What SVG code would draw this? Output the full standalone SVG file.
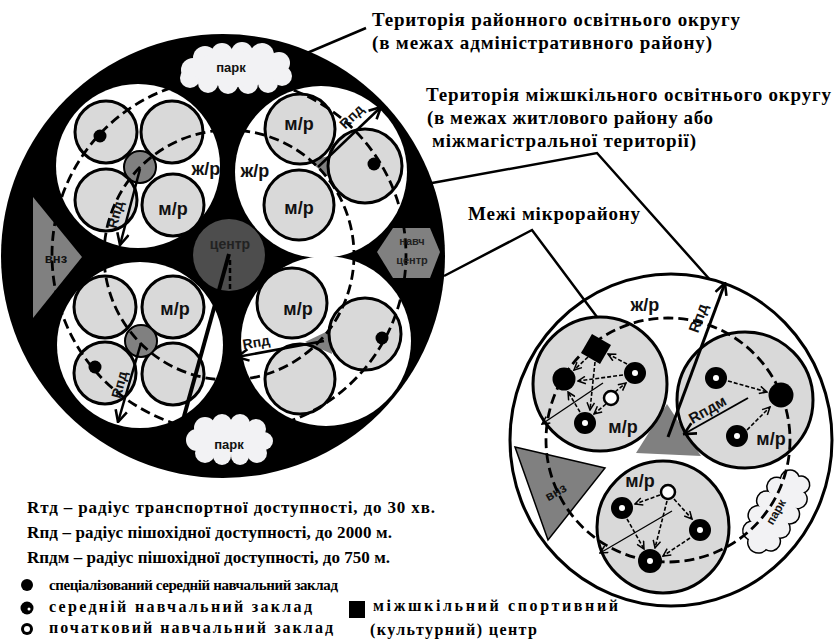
<svg xmlns="http://www.w3.org/2000/svg" xmlns:xlink="http://www.w3.org/1999/xlink" width="835" height="641" viewBox="0 0 835 641">
<style>
.mr{fill:#d9d9d9;stroke:#000;stroke-width:3}
.hub{fill:#808080;stroke:#000;stroke-width:2}
.dash{fill:none;stroke:#000;stroke-width:2.8;stroke-dasharray:10 5}
.sdash{fill:none;stroke:#000;stroke-width:1.6;stroke-dasharray:4 2}
.ln{fill:none;stroke:#000;stroke-width:2.5}
.lbl{font-family:"Liberation Sans",Arial,sans-serif;font-weight:bold;fill:#111}
.ser{font-family:"Liberation Serif","Times New Roman",serif;font-weight:bold;fill:#000}
.park{fill:#f2f2f4}
</style>
<defs>
<marker id="a1" viewBox="0 0 12 12" refX="11" refY="6" markerWidth="14" markerHeight="14" markerUnits="userSpaceOnUse" orient="auto"><path d="M1,1 L11,6 L1,11" fill="none" stroke="#000" stroke-width="2.2"/></marker>
<marker id="a2" viewBox="0 0 12 12" refX="11" refY="6" markerWidth="9" markerHeight="9" markerUnits="userSpaceOnUse" orient="auto"><path d="M1,1 L11,6 L1,11" fill="none" stroke="#000" stroke-width="2"/></marker>
<g id="cloudR">
<circle cx="-35" cy="0" r="10"/><circle cx="-28" cy="-11" r="9"/><circle cx="-12" cy="-14" r="9"/><circle cx="5" cy="-14" r="9"/><circle cx="22" cy="-12" r="9"/><circle cx="35" cy="-4" r="9"/><circle cx="36" cy="8" r="8"/><circle cx="22" cy="12" r="9"/><circle cx="5" cy="13" r="9"/><circle cx="-12" cy="12" r="9"/><circle cx="-28" cy="10" r="9"/><ellipse cx="0" cy="0" rx="35" ry="13"/>
</g>
</defs>

<!-- Left: district territory -->
<g id="district">
<circle cx="223" cy="256" r="222" fill="#000"/>
<circle cx="138" cy="166" r="82" fill="#fff"/>
<circle cx="321" cy="172" r="86" fill="#fff"/>
<circle cx="140" cy="345" r="83" fill="#fff"/>
<circle cx="326" cy="341" r="85" fill="#fff"/>
</g>
<g id="centre"><circle cx="229" cy="255" r="36" fill="#4d4d4d"/></g>
<g id="vnz-left"><polygon points="33,197 82,257 33,318" fill="#808080"/></g>
<g id="navch"><polygon points="377,252 393,228 430,228 440,252 430,278 393,278" fill="#808080"/></g>

<g id="tl-group">
<circle class="mr" cx="106" cy="132" r="31"/>
<circle class="mr" cx="172" cy="132" r="31"/>
<circle class="mr" cx="106" cy="200" r="31"/>
<circle class="mr" cx="173" cy="205" r="31"/>
<circle class="hub" cx="140" cy="167" r="16"/>
</g>
<g id="tr-group">
<polygon points="308,160 330,156 332,180" fill="#808080"/>
<circle class="mr" cx="300" cy="129" r="35"/>
<circle class="mr" cx="299" cy="205" r="35"/>
<circle class="mr" cx="365" cy="166" r="37"/>
</g>
<g id="bl-group">
<circle class="mr" cx="105" cy="307" r="31"/>
<circle class="mr" cx="173" cy="307" r="31"/>
<circle class="mr" cx="105" cy="373" r="31"/>
<circle class="mr" cx="173" cy="374" r="31"/>
<circle class="hub" cx="141" cy="341" r="16"/>
</g>
<g id="br-group">
<polygon points="305,342 330,330 332,354" fill="#808080"/>
<circle class="mr" cx="292" cy="303" r="35"/>
<circle class="mr" cx="300" cy="379" r="35"/>
<circle class="mr" cx="365" cy="334" r="36"/>
</g>

<g id="connectors-left">
<circle class="dash" cx="229" cy="255" r="125"/>
<circle class="dash" cx="229" cy="255" r="177"/>
<line x1="229" y1="254" x2="183" y2="420" stroke="#000" stroke-width="4"/>
<line x1="230" y1="260" x2="230" y2="292" stroke="#000" stroke-width="2.5" stroke-dasharray="5 3"/>
<line class="ln" x1="140" y1="169" x2="120" y2="245" marker-end="url(#a1)"/>
<line class="ln" x1="141" y1="343" x2="118" y2="422" marker-end="url(#a1)"/>
<line class="ln" x1="318" y1="167" x2="381" y2="107" marker-end="url(#a1)"/>
<line class="ln" x1="324" y1="341" x2="237" y2="357" marker-end="url(#a1)"/>
</g>

<g id="park-top">
<g class="park">
<circle cx="193" cy="70" r="12"/><circle cx="205" cy="58" r="12"/><circle cx="222" cy="54" r="11"/><circle cx="242" cy="53" r="11"/><circle cx="262" cy="55" r="12"/><circle cx="279" cy="63" r="11"/><circle cx="282" cy="76" r="10"/><circle cx="268" cy="83" r="10"/><circle cx="248" cy="84" r="10"/><circle cx="228" cy="84" r="10"/><circle cx="208" cy="83" r="10"/><circle cx="190" cy="78" r="10"/><ellipse cx="236" cy="69" rx="45" ry="18"/>
</g>
<text class="lbl" x="231" y="72" font-size="13" text-anchor="middle">парк</text>
</g>
<g id="park-bottom">
<g class="park">
<circle cx="197" cy="440" r="11"/><circle cx="205" cy="428" r="11"/><circle cx="222" cy="424" r="10"/><circle cx="240" cy="424" r="10"/><circle cx="256" cy="429" r="10"/><circle cx="264" cy="441" r="9"/><circle cx="257" cy="453" r="10"/><circle cx="240" cy="456" r="9"/><circle cx="222" cy="456" r="9"/><circle cx="205" cy="453" r="10"/><ellipse cx="229" cy="440" rx="34" ry="15"/>
</g>
<text class="lbl" x="229" y="449" font-size="13" text-anchor="middle">парк</text>
</g>

<g id="spec-dots-left" fill="#000">
<circle cx="100" cy="136" r="6.5"/>
<circle cx="374" cy="164" r="6.5"/>
<circle cx="95" cy="367" r="6.5"/>
<circle cx="382" cy="338" r="6.5"/>
</g>

<g id="labels-left" class="lbl">
<text x="173" y="215" font-size="18" text-anchor="middle">м/р</text>
<text x="206" y="175" font-size="18" text-anchor="middle">ж/р</text>
<text x="255" y="177" font-size="18" text-anchor="middle">ж/р</text>
<text x="299" y="130" font-size="18" text-anchor="middle">м/р</text>
<text x="299" y="214" font-size="18" text-anchor="middle">м/р</text>
<text x="175" y="315" font-size="18" text-anchor="middle">м/р</text>
<text x="298" y="315" font-size="18" text-anchor="middle">м/р</text>
<text x="230" y="249" font-size="14" text-anchor="middle" fill="#222">центр</text>
<text x="56" y="263" font-size="13" text-anchor="middle">внз</text>
<text x="412" y="245" font-size="11" text-anchor="middle" fill="#222">навч</text>
<text x="412" y="264" font-size="11" text-anchor="middle" fill="#222">центр</text>
<text font-size="14" transform="translate(120,216) rotate(-75)" text-anchor="middle">Rпд</text>
<text font-size="14" transform="translate(124,386) rotate(-75)" text-anchor="middle">Rпд</text>
<text font-size="14" transform="translate(355,120) rotate(-45)" text-anchor="middle">Rпд</text>
<text font-size="14" transform="translate(257,347) rotate(-10)" text-anchor="middle">Rпд</text>
</g>

<!-- Leaders -->
<g id="leaders">
<polyline class="ln" points="300,56 366,28"/>
<polyline class="ln" points="432,183 597,153 712,282"/>
</g>

<!-- Right: inter-school district -->
<g id="interschool">
<ellipse cx="671" cy="440" rx="161" ry="166" fill="#fff" stroke="#000" stroke-width="3"/>
</g>
<g id="leader-micro"><polyline class="ln" points="444,276 532,230 597,317"/></g>
<g id="vnz-right">
<polygon points="515,447 605,468 548,540" fill="#808080" stroke="#000" stroke-width="1.5"/>
<text class="lbl" font-size="13" transform="translate(558,496) rotate(-30)" text-anchor="middle">внз</text>
</g>
<g id="park-right" transform="translate(776,512) rotate(-60)">
<use xlink:href="#cloudR" fill="#f2f2f4" stroke="#000" stroke-width="3"/>
<use xlink:href="#cloudR" fill="#f2f2f4"/>
<text class="lbl" x="0" y="4" font-size="12" text-anchor="middle">парк</text>
</g>
<g id="hub-right"><polygon points="667,404 636,453 701,456" fill="#808080"/></g>
<g id="mr-a"><circle class="mr" cx="600" cy="384" r="67"/></g>
<g id="mr-b"><circle class="mr" cx="745" cy="400" r="68"/></g>
<g id="mr-c"><circle class="mr" cx="663" cy="527" r="66"/></g>

<g id="connectors-right">
<circle class="dash" cx="668" cy="440" r="122"/>
<line x1="668" y1="437" x2="725" y2="283" stroke="#000" stroke-width="3" marker-end="url(#a1)"/>
<line x1="748" y1="398" x2="684" y2="434" stroke="#000" stroke-width="2" marker-end="url(#a1)"/>
<line x1="603" y1="383" x2="542" y2="424" stroke="#000" stroke-width="1.3" marker-end="url(#a2)"/>
<line x1="672" y1="511" x2="600" y2="553" stroke="#000" stroke-width="1.3" marker-end="url(#a2)"/>
<line class="sdash" x1="588" y1="357" x2="574" y2="370" marker-end="url(#a2)"/>
<line class="sdash" x1="623" y1="375" x2="578" y2="381" marker-end="url(#a2)"/>
<line class="sdash" x1="627" y1="364" x2="608" y2="354" marker-end="url(#a2)"/>
<line class="sdash" x1="615" y1="392" x2="626" y2="383" marker-end="url(#a2)"/>
<line class="sdash" x1="606" y1="404" x2="594" y2="414" marker-end="url(#a2)"/>
<line class="sdash" x1="580" y1="412" x2="568" y2="392" marker-end="url(#a2)"/>
<line class="sdash" x1="595" y1="362" x2="590" y2="410" marker-end="url(#a2)"/>
<line class="sdash" x1="728" y1="381" x2="767" y2="392" marker-end="url(#a2)"/>
<line class="sdash" x1="747" y1="430" x2="770" y2="407" marker-end="url(#a2)"/>
<line class="sdash" x1="660" y1="495" x2="635" y2="504" marker-end="url(#a2)"/>
<line class="sdash" x1="674" y1="499" x2="692" y2="519" marker-end="url(#a2)"/>
<line class="sdash" x1="667" y1="501" x2="655" y2="548" marker-end="url(#a2)"/>
<line class="sdash" x1="627" y1="519" x2="644" y2="549" marker-end="url(#a2)"/>
<line class="sdash" x1="690" y1="538" x2="663" y2="556" marker-end="url(#a2)"/>
</g>

<g id="schools-right">
<circle cx="564" cy="379" r="11.5" fill="#000"/>
<rect x="585" y="338" width="22" height="22" fill="#000" transform="rotate(30 596 349)"/>
<circle cx="635" cy="373" r="11" fill="#000"/><circle cx="635" cy="373" r="3" fill="#fff"/>
<circle cx="611" cy="398" r="7" fill="#fff" stroke="#000" stroke-width="2.5"/>
<circle cx="585" cy="423" r="11" fill="#000"/><circle cx="585" cy="423" r="3" fill="#fff"/>
<circle cx="781" cy="395" r="12.5" fill="#000"/>
<circle cx="716" cy="378" r="11" fill="#000"/><circle cx="716" cy="378" r="3" fill="#fff"/>
<circle cx="737" cy="436" r="11" fill="#000"/><circle cx="737" cy="436" r="3" fill="#fff"/>
<circle cx="668" cy="492" r="7" fill="#fff" stroke="#000" stroke-width="2.5"/>
<circle cx="622" cy="508" r="11" fill="#000"/><circle cx="622" cy="508" r="3" fill="#fff"/>
<circle cx="700" cy="530" r="11" fill="#000"/><circle cx="700" cy="530" r="3" fill="#fff"/>
<circle cx="650" cy="561" r="12" fill="#000"/><circle cx="650" cy="561" r="3" fill="#fff"/>
</g>

<g id="labels-right" class="lbl">
<text x="645" y="311" font-size="18" text-anchor="middle">ж/р</text>
<text x="623" y="433" font-size="18" text-anchor="middle">м/р</text>
<text x="771" y="445" font-size="18" text-anchor="middle">м/р</text>
<text x="640" y="487" font-size="18" text-anchor="middle">м/р</text>
<text font-size="15" transform="translate(703,320) rotate(-70)" text-anchor="middle">Rпд</text>
<text font-size="15" transform="translate(710,414) rotate(-30)" text-anchor="middle">Rпдм</text>
</g>

<!-- Titles -->
<g id="titles" class="ser">
<text x="372" y="26" font-size="19" textLength="368">Територія районного освітнього округу</text>
<text x="372" y="49" font-size="19" textLength="340">(в межах адміністративного району)</text>
<text x="426" y="101" font-size="19" textLength="405">Територія міжшкільного освітнього округу</text>
<text x="427" y="124" font-size="19" textLength="286">(в межах житлового району або</text>
<text x="432" y="147" font-size="19" textLength="264">міжмагістральної території)</text>
<text x="468" y="220" font-size="19" textLength="172">Межі мікрорайону</text>
</g>

<!-- Legend -->
<g id="legend">
<g class="ser">
<text x="27" y="513" font-size="17" textLength="408">Rтд – радіус транспортної доступності, до 30 хв.</text>
<text x="27" y="538" font-size="17" textLength="365">Rпд – радіус пішохідної доступності, до 2000 м.</text>
<text x="27" y="563" font-size="17" textLength="363">Rпдм – радіус пішохідної доступності, до 750 м.</text>
<text x="49" y="590" font-size="15" textLength="289">спеціалізований середній навчальний заклад</text>
<text x="49" y="612" font-size="16" textLength="263">середній навчальний заклад</text>
<text x="49" y="633" font-size="16" textLength="284">початковий навчальний заклад</text>
<text x="373" y="611" font-size="16" textLength="245">міжшкільний спортивний</text>
<text x="370" y="635" font-size="16" textLength="167">(культурний) центр</text>
</g>
<circle cx="27" cy="585" r="6" fill="#000"/>
<circle cx="27" cy="608" r="6.5" fill="#000"/><circle cx="29" cy="609" r="1.5" fill="#fff"/>
<circle cx="27" cy="629" r="6" fill="#000"/><circle cx="27" cy="629" r="3" fill="#fff"/>
<rect x="349" y="601" width="16" height="17" fill="#000"/>
</g>
</svg>
